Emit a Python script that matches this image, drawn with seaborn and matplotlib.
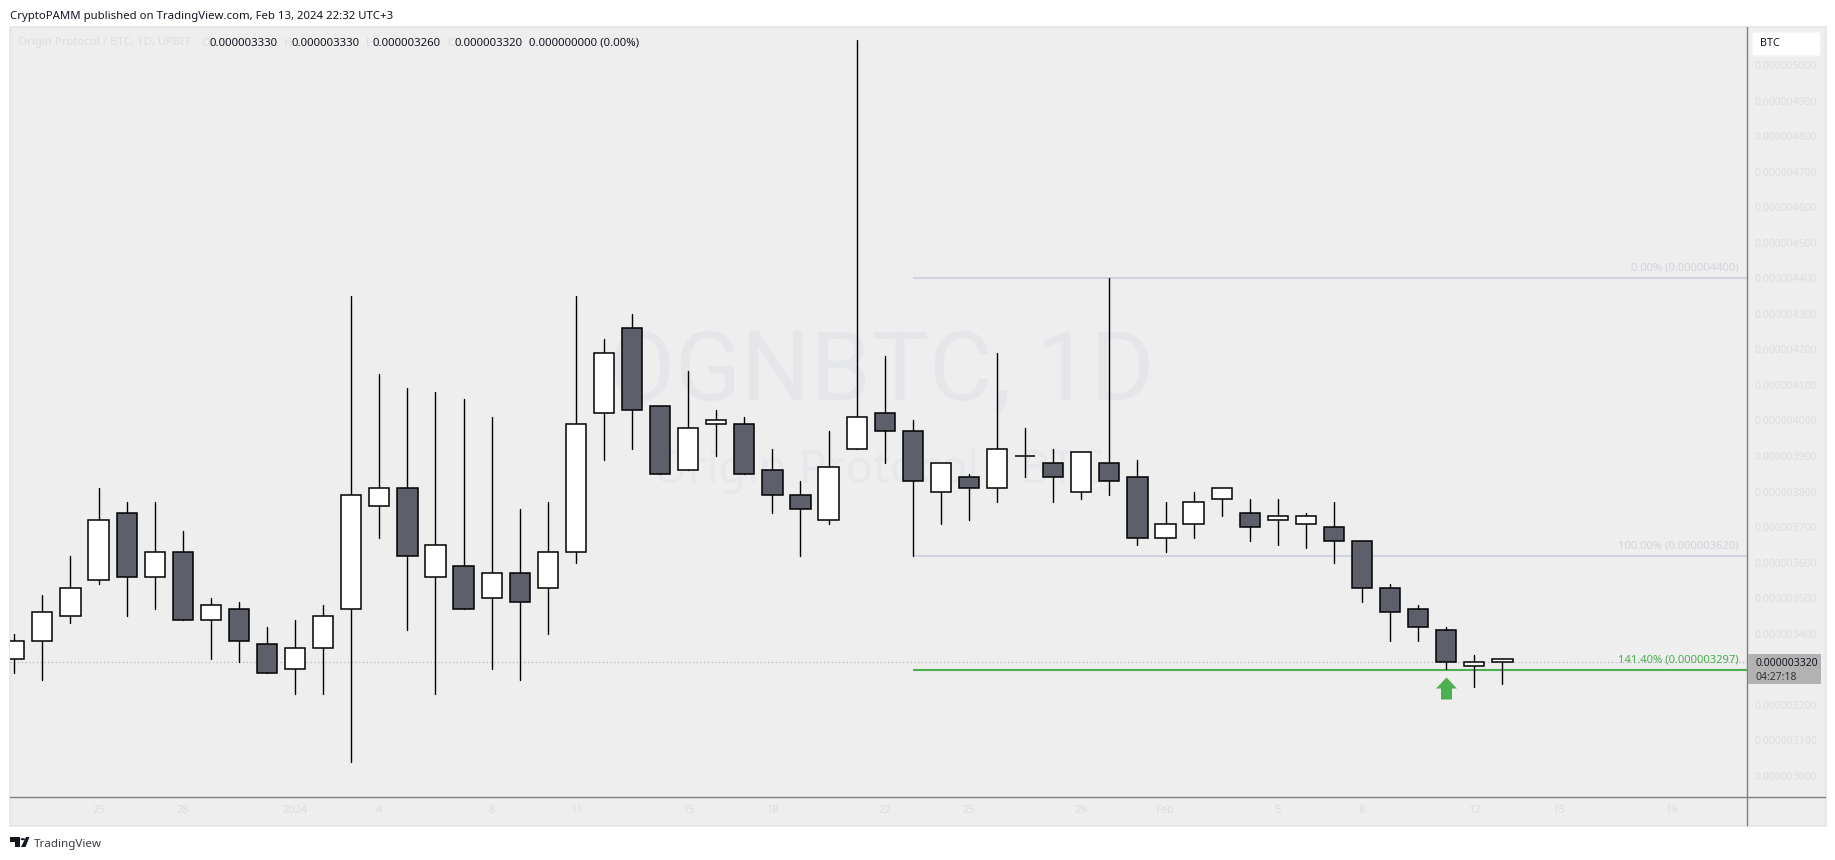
import matplotlib
matplotlib.use('Agg')
import matplotlib.pyplot as plt
from matplotlib.patches import Rectangle, FancyBboxPatch, Polygon
from matplotlib.path import Path
import pandas as pd
import seaborn as sns

W, H = 1835, 860

# Daily candles from 22 Dec 2023 to 13 Feb 2024, in units of 0.000000001 BTC
highs = [3400, 3510, 3620, 3810, 3770, 3770, 3690, 3500, 3490, 3420, 3440, 3480, 4350, 4130, 4090, 4080, 4060, 4010,
         3750, 3770, 4350, 4230, 4300, 4040, 4140, 4030, 4010, 3920, 3830, 3970, 5070, 4180, 4000, 3880, 3850, 4190,
         3980, 3920, 3910, 4400, 3890, 3770, 3800, 3810, 3780, 3780, 3740, 3770, 3660, 3540, 3480, 3420, 3340, 3330]
lows = [3290, 3270, 3430, 3540, 3450, 3470, 3440, 3330, 3320, 3290, 3230, 3230, 3040, 3670, 3410, 3230, 3470, 3300,
        3270, 3400, 3600, 3890, 3920, 3850, 3860, 3900, 3850, 3740, 3620, 3710, 3920, 3880, 3620, 3710, 3720, 3770,
        3840, 3770, 3780, 3790, 3650, 3630, 3670, 3730, 3660, 3650, 3640, 3600, 3490, 3380, 3380, 3300, 3250, 3260]
body_tops = [3380, 3460, 3530, 3720, 3740, 3630, 3630, 3480, 3470, 3370, 3360, 3450, 3790, 3810, 3810, 3650, 3590, 3570,
             3570, 3630, 3990, 4190, 4260, 4040, 3980, 4000, 3990, 3860, 3790, 3870, 4010, 4020, 3970, 3880, 3840, 3920,
             3900, 3880, 3910, 3880, 3840, 3710, 3770, 3810, 3740, 3730, 3730, 3700, 3660, 3530, 3470, 3410, 3320, 3330]
body_bottoms = [3330, 3380, 3450, 3550, 3560, 3560, 3440, 3440, 3380, 3290, 3300, 3360, 3470, 3760, 3620, 3560, 3470, 3500,
                3490, 3530, 3630, 4020, 4030, 3850, 3860, 3990, 3850, 3790, 3750, 3720, 3920, 3970, 3830, 3800, 3810, 3810,
                3900, 3840, 3800, 3830, 3670, 3670, 3710, 3780, 3700, 3720, 3710, 3660, 3530, 3460, 3420, 3320, 3310, 3320]
dark_days = [4, 6, 8, 9, 14, 16, 18, 22, 23, 26, 27, 28, 31, 32, 34, 37, 39, 40, 44, 47, 48, 49, 50, 51]

# 3300 sits behind the last price box in the chart, so it has no label
y_ticks = [3000, 3100, 3200, 3400, 3500, 3600, 3700, 3800, 3900, 4000, 4100, 4200, 4300, 4400, 4500, 4600, 4700, 4800,
           4900, 5000]
x_tick_days = [3, 6, 10, 13, 17, 20, 24, 27, 31, 34, 38, 41, 45, 48, 52, 55, 59]
x_tick_labels = ['25', '28', '2024', '4', '8', '11', '15', '18', '22', '25', '29', 'Feb', '5', '8', '12', '15', '19']

fib_start_day = 32
fib_levels = [4400, 3620, 3297]
fib_labels = ['0.00% (0.000004400)', '100.00% (0.000003620)', '141.40% (0.000003297)']
last_price = 3320
arrow_day = 51
arrow_price = 3247

PANEL = '#EEEEEE'
FAINT = '#DCDDE0'
FIB_GREY = '#D1D4DC'
GREEN = '#4CAF50'
DARK = '#5D606B'
AXIS = '#7F7F7F'

sns.set_theme(style='white')
plt.rcParams['font.family'] = ['Noto Sans', 'DejaVu Sans']

df = pd.DataFrame({'day': range(len(highs)), 'high': highs, 'low': lows,
                   'top': body_tops, 'bottom': body_bottoms})
df['size'] = df['top'] - df['bottom']
df['dark'] = df['day'].isin(dark_days)


def fx(x):
    return x / W


def fy(y):
    return 1 - y / H


fig = plt.figure(figsize=(W / 100, H / 100), dpi=100)
fig.patch.set_facecolor('white')
ax = fig.add_axes([fx(10), fy(797.3), fx(1747.3 - 10), (797.3 - 27) / H])
ax.patch.set_alpha(0)

# panel behind everything
fig.add_artist(Rectangle((fx(9.5), fy(825.5)), fx(1816.5), 798.5 / H, transform=fig.transFigure,
                         facecolor=PANEL, edgecolor='#E3E5EA', lw=1.2, zorder=-1))

# watermark
fig.text(fx(881), fy(400), 'OGNBTC, 1D', ha='center', va='baseline', fontsize=70, family='Roboto',
         color='#E4E6EA', zorder=-0.5)
fig.text(fx(878), fy(483), 'Origin Protocol / BTC', ha='center', va='baseline', fontsize=33, color='#E7E8EC', zorder=-0.5)

# wicks
wicks = df.melt(id_vars='day', value_vars=['high', 'low'], value_name='price')
sns.lineplot(data=wicks, x='day', y='price', units='day', estimator=None, color='black', lw=1.0, ax=ax, zorder=3)

# bodies
for is_dark, color in [(False, 'white'), (True, DARK)]:
    part = df[df['dark'] == is_dark]
    sns.barplot(data=part, x='day', y='size', bottom=part['bottom'], native_scale=True, width=0.72, errorbar=None,
                color=color, saturation=1, edgecolor='black', linewidth=1.1, ax=ax, zorder=4)

# fib levels
for level, color in zip(fib_levels, [FIB_GREY, FIB_GREY, GREEN]):
    ax.hlines(level, fib_start_day, 1000, color=color, lw=1.5, zorder=2)

ax.axhline(last_price, color='#B5B5B5', lw=0.9, ls=(0, (1, 2)), zorder=1)

# arrow under the low
arrow = Path([(0, 1), (0.95, 0), (0.5, 0), (0.5, -1), (-0.5, -1), (-0.5, 0), (-0.95, 0), (0, 1)], closed=True)
sns.scatterplot(x=[arrow_day], y=[arrow_price], marker=arrow, s=250, color=GREEN, linewidth=0, ax=ax, zorder=5)

ax.set_xlim(-0.153, 61.72)
ax.set_ylim(2940, 5106.9)
ax.set_xlabel('')
ax.set_ylabel('')
ax.set_xticks(x_tick_days)
ax.set_xticklabels(x_tick_labels)
ax.set_yticks(y_ticks)
ax.set_yticklabels([f'{v * 1e-9:.9f}' for v in y_ticks])
ax.yaxis.tick_right()
ax.tick_params(axis='y', length=0, pad=5, labelsize=7.5, labelcolor=FAINT)
ax.tick_params(axis='x', length=0, pad=5.5, labelsize=8, labelcolor=FAINT)
for side in ax.spines.values():
    side.set_visible(False)

# fib labels, right aligned against the price axis
for level, label, color in zip(fib_levels, fib_labels, [FIB_GREY, FIB_GREY, GREEN]):
    ax.annotate(label, xy=(1, level), xycoords=ax.get_yaxis_transform(), xytext=(-6.5, 7.2), textcoords='offset points',
                ha='right', va='center', fontsize=8.1, color=color, zorder=6)

# axis lines drawn past the axes box
fig.add_artist(plt.Line2D([fx(1747.3)] * 2, [fy(27), fy(825)], color=AXIS, lw=1.0, zorder=6))
fig.add_artist(plt.Line2D([fx(10), fx(1825)], [fy(797.3)] * 2, color=AXIS, lw=1.0, zorder=6))

# last price box
fig.add_artist(Rectangle((fx(1747.8), fy(684)), fx(73), 30 / H, transform=fig.transFigure, facecolor='#B2B2B2', lw=0, zorder=7))
fig.text(fx(1755), fy(666.5), '0.000003320', va='baseline', fontsize=7.5, color='#131722', zorder=8)
fig.text(fx(1755), fy(680.5), '04:27:18', va='baseline', fontsize=7.5, color='#333333', zorder=8)

# currency button
fig.add_artist(FancyBboxPatch((fx(1752), fy(56)), fx(68.5), 24 / H, boxstyle='round,pad=0,rounding_size=0.0015',
                              mutation_aspect=H / W, transform=fig.transFigure, facecolor='white',
                              edgecolor='#F3F3F5', lw=1, zorder=7))
fig.text(fx(1760), fy(44), 'BTC', va='center', fontsize=7.8, color='#131722', zorder=8)

# header
fig.text(fx(10), fy(19), 'CryptoPAMM published on TradingView.com, Feb 13, 2024 22:32 UTC+3', va='baseline', fontsize=8.2, color='#131722')
fig.text(fx(18), fy(45.5), 'Origin Protocol / BTC, 1D, UPBIT', va='baseline', fontsize=8.2, color=FAINT)
for x, letter in [(201, 'O'), (284, 'H'), (366, 'L'), (447, 'C')]:
    fig.text(fx(x), fy(45.5), letter, va='baseline', fontsize=8.2, color=FAINT)
for x, value in [(209, '0.000003330'), (291.5, '0.000003330'), (372.8, '0.000003260'), (454.5, '0.000003320'),
                 (529, '0.000000000 (0.00%)')]:
    fig.text(fx(x), fy(45.5), value, va='baseline', fontsize=8.2, color='#131722')

# TradingView logo and name
logo = [[(10, 837), (20, 837), (20, 847), (15, 847), (15, 842), (10, 842)],
        [(26, 837), (29.5, 837), (25.5, 847), (21, 847)]]
for shape in logo:
    fig.add_artist(Polygon([(fx(x), fy(y)) for x, y in shape], closed=True, transform=fig.transFigure, facecolor='#131722', lw=0))
fig.add_artist(plt.Circle((fx(22.8), fy(839.2)), 2.2 / W, transform=fig.transFigure, facecolor='#131722', lw=0))
fig.text(fx(33.5), fy(846.5), 'TradingView', va='baseline', fontsize=8.4, color='#3A3D45')

fig.savefig('out.png', dpi=100, facecolor='white')
